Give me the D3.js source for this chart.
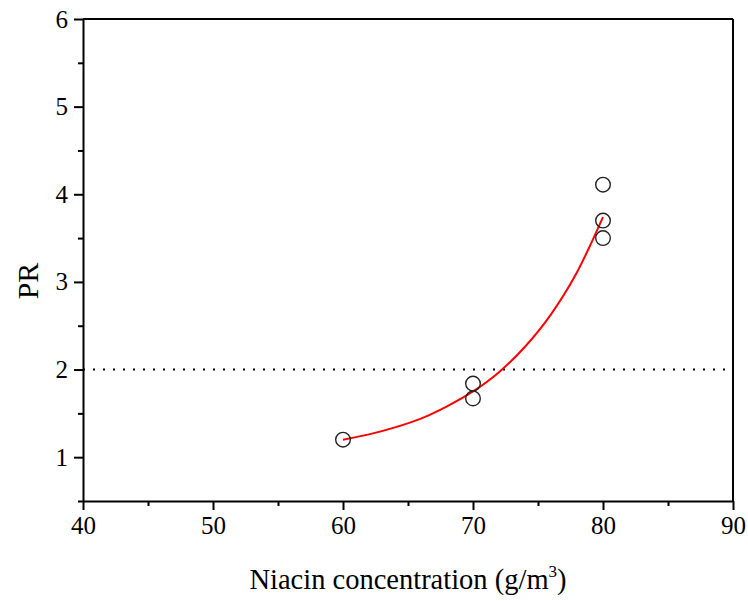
<!DOCTYPE html>
<html>
<head>
	<meta charset="utf-8">
	<script src="https://cdn.jsdelivr.net/npm/d3@7"></script>
</head>
<style type="text/css">
	body { margin:0; background:#fff; }
</style>
<body>
</body>
</html>
<script type="text/javascript">
	// measured points
	var pointX = [60, 70, 70, 80, 80, 80];
	var pointY = [1.20, 1.84, 1.67, 4.11, 3.70, 3.50];
	// fitted curve
	var curveX = [60, 62, 64, 66, 68, 70, 72, 74, 76, 78, 80];
	var curveY = [1.20, 1.26, 1.34, 1.44, 1.58, 1.75, 1.97, 2.26, 2.63, 3.11, 3.74];
	var xTicks = [40, 50, 60, 70, 80, 90];
	var yTicks = [1, 2, 3, 4, 5, 6];
	var limitY = 2;

	var serif = "'Liberation Serif', 'Times New Roman', serif";
	var width = 748, height = 601;
	var margin = {left:83, right:15, top:19, bottom:100};
	var w = width - margin.left - margin.right;
	var h = height - margin.top - margin.bottom;

	var svg = d3.select("body").append("svg").attr("width", width).attr("height", height)
		.attr("font-family", serif);
	var x = d3.scaleLinear().domain([40, 90]).range([0, w]);
	var y = d3.scaleLinear().domain([0.5, 6]).range([h, 0]);
	var g = svg.append("g").attr("transform", "translate(" + margin.left + "," + margin.top + ")");

	// dotted reference line
	g.append("line")
		.attr("x1", 0).attr("x2", w)
		.attr("y1", y(limitY)).attr("y2", y(limitY))
		.attr("stroke", "#000").attr("stroke-width", 2)
		.attr("stroke-dasharray", "2,8");

	// minor ticks
	var xMinor = d3.range(45, 90, 10);
	var yMinor = d3.range(0.5, 6, 1);
	g.append("g").attr("transform", "translate(0," + h + ")")
		.call(d3.axisBottom(x).tickValues(xMinor).tickSize(5).tickFormat(""))
		.call(function(a){ a.select(".domain").remove(); a.selectAll("line").attr("stroke-width", 2); });
	g.append("g")
		.call(d3.axisLeft(y).tickValues(yMinor).tickSize(5).tickFormat(""))
		.call(function(a){ a.select(".domain").remove(); a.selectAll("line").attr("stroke-width", 2); });

	// major axes
	var xAxis = g.append("g").attr("transform", "translate(0," + h + ")")
		.call(d3.axisBottom(x).tickValues(xTicks).tickFormat(d3.format("d")).tickSize(9).tickSizeOuter(0).tickPadding(6));
	var yAxis = g.append("g")
		.call(d3.axisLeft(y).tickValues(yTicks).tickFormat(d3.format("d")).tickSize(9).tickSizeOuter(0).tickPadding(6));
	[xAxis, yAxis].forEach(function(a){
		a.attr("font-family", serif).attr("font-size", 25);
		a.select(".domain").attr("stroke-width", 2);
		a.selectAll("line").attr("stroke-width", 2);
		a.selectAll("text").attr("fill", "#000").style("font-family", serif);
	});

	// frame top and right
	g.append("line").attr("x1", 0).attr("x2", w).attr("y1", 0).attr("y2", 0)
		.attr("stroke", "#000").attr("stroke-width", 2);
	g.append("line").attr("x1", w).attr("x2", w).attr("y1", 0).attr("y2", h)
		.attr("stroke", "#000").attr("stroke-width", 2);

	// fitted curve
	var line = d3.line().curve(d3.curveMonotoneX)
		.x(function(d){ return x(d[0]); })
		.y(function(d){ return y(d[1]); });
	g.append("path")
		.datum(curveX.map(function(v, i){ return [v, curveY[i]]; }))
		.attr("d", line)
		.attr("fill", "none").attr("stroke", "#ff0000").attr("stroke-width", 2);

	// points
	g.selectAll(".pt").data(pointX).enter().append("circle")
		.attr("class", "pt")
		.attr("cx", function(d){ return x(d); })
		.attr("cy", function(d, i){ return y(pointY[i]); })
		.attr("r", 7.3)
		.attr("fill", "none").attr("stroke", "#222").attr("stroke-width", 1.4);

	// titles
	svg.append("text")
		.attr("transform", "translate(38,281) rotate(-90)")
		.attr("text-anchor", "middle").attr("font-size", 30).text("PR");
	var xt = svg.append("text")
		.attr("x", margin.left + w / 2).attr("y", 589)
		.attr("text-anchor", "middle").attr("font-size", 28.5);
	xt.append("tspan").text("Niacin concentration (g/m");
	xt.append("tspan").attr("font-size", 17).attr("dy", -12).text("3");
	xt.append("tspan").attr("dy", 12).text(")");
</script>
